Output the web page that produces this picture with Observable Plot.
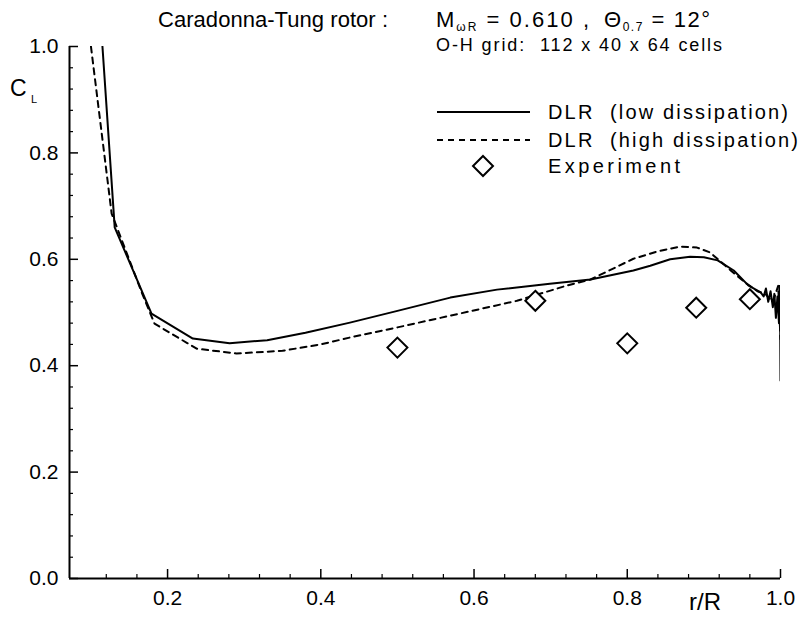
<!DOCTYPE html>
<html><head><meta charset="utf-8">
<script src="https://cdn.jsdelivr.net/npm/d3@7"></script>
<script src="https://cdn.jsdelivr.net/npm/@observablehq/plot@0.6"></script>
<style>
body{margin:0;background:#fff;overflow:hidden;font-family:"Liberation Sans",Arial,sans-serif;}
#wrap{position:relative;width:800px;height:624px;overflow:hidden;background:#fff;}
.t{position:absolute;white-space:pre;color:#000;line-height:1;}
</style></head><body><div id="wrap"></div>
<script>
// DLR low dissipation (solid)
const lowR  = [0.115, 0.131, 0.179, 0.233, 0.281, 0.33, 0.38, 0.438, 0.5, 0.569, 0.63, 0.699, 0.752, 0.808, 0.83, 0.856, 0.882, 0.9, 0.918, 0.939, 0.958, 0.974, 0.978, 0.981, 0.984, 0.987, 0.99, 0.992, 0.994, 0.996, 0.998, 0.9985, 0.999, 0.9995, 1.0];
const lowCL = [1.0, 0.66, 0.498, 0.451, 0.442, 0.448, 0.462, 0.481, 0.503, 0.528, 0.543, 0.554, 0.562, 0.579, 0.588, 0.600, 0.605, 0.604, 0.598, 0.579, 0.551, 0.538, 0.53, 0.545, 0.52, 0.54, 0.51, 0.535, 0.49, 0.53, 0.48, 0.55, 0.49, 0.50, 0.372];
// DLR high dissipation (dashed)
const highR  = [0.100, 0.127, 0.167, 0.183, 0.238, 0.29, 0.35, 0.40, 0.438, 0.5, 0.569, 0.656, 0.722, 0.752, 0.808, 0.84, 0.869, 0.891, 0.908, 0.935, 0.955, 0.97, 0.98, 0.99, 0.997, 1.0];
const highCL = [1.0, 0.686, 0.535, 0.479, 0.432, 0.423, 0.428, 0.44, 0.453, 0.472, 0.494, 0.522, 0.551, 0.562, 0.601, 0.615, 0.624, 0.622, 0.613, 0.579, 0.555, 0.54, 0.535, 0.52, 0.55, 0.45];
// Experiment
const expR  = [0.50, 0.68, 0.80, 0.89, 0.96];
const expCL = [0.434, 0.522, 0.442, 0.509, 0.525];
// ticks
const xTicks = [0.2, 0.4, 0.6, 0.8, 1.0];
const xMinor = [0.12, 0.16, 0.24, 0.28, 0.32, 0.36, 0.44, 0.48, 0.52, 0.56, 0.64, 0.68, 0.72, 0.76, 0.84, 0.88, 0.92, 0.96];
const yTicks = [0.0, 0.2, 0.4, 0.6, 0.8, 1.0];
const yMinor = [0.04, 0.08, 0.12, 0.16, 0.24, 0.28, 0.32, 0.36, 0.44, 0.48, 0.52, 0.56, 0.64, 0.68, 0.72, 0.76, 0.84, 0.88, 0.92, 0.96];
const xDomain = [0.072, 1.0];
const yDomain = [0, 1];
const legendLabels = ["DLR  (low dissipation)", "DLR  (high dissipation)", "Experiment"];

const low = lowR.map((r, i) => ({r, cl: lowCL[i]}));
const high = highR.map((r, i) => ({r, cl: highCL[i]}));
const exp = expR.map((r, i) => ({r, cl: expCL[i]}));
const fmt = d3.format(".1f");
const FS = 21;
const W = 800, H = 624, ML = 69, MR = 20, MT = 46, MB = 46;
const FW = W - ML - MR, FH = H - MT - MB;

const plot = Plot.plot({
  width: W, height: H,
  marginLeft: ML, marginRight: MR, marginTop: MT, marginBottom: MB,
  x: {domain: xDomain},
  y: {domain: yDomain},
  style: {fontFamily: "Liberation Sans, Arial, sans-serif", fontSize: FS + "px", color: "#000", background: "white", overflow: "visible"},
  marks: [
    Plot.tickX(xMinor, {x: d => d, stroke: "black", strokeWidth: 1.2, insetTop: FH - 4}),
    Plot.tickX(xTicks, {x: d => d, stroke: "black", strokeWidth: 1.5, insetTop: FH - 9}),
    Plot.tickY(yMinor, {y: d => d, stroke: "black", strokeWidth: 1.2, insetRight: FW - 4}),
    Plot.tickY(yTicks, {y: d => d, stroke: "black", strokeWidth: 1.5, insetRight: FW - 9}),
    Plot.axisX(xTicks, {tickSize: 0, tickPadding: 12, tickFormat: fmt, label: null, fontSize: FS}),
    Plot.axisY(yTicks, {tickSize: 0, tickPadding: 11, tickFormat: fmt, label: null, fontSize: FS}),
    Plot.ruleX([xDomain[0]], {stroke: "black", strokeWidth: 2}),
    Plot.ruleY([yDomain[0]], {stroke: "black", strokeWidth: 2}),
    Plot.line(high, {x: "r", y: "cl", stroke: "black", strokeWidth: 2, strokeDasharray: "6,5", clip: true}),
    Plot.line(low, {x: "r", y: "cl", stroke: "black", strokeWidth: 2, clip: true}),
    Plot.dot(exp, {x: "r", y: "cl", symbol: "diamond2", r: 9, stroke: "black", strokeWidth: 2, fill: "white"})
  ]
});
const wrap = document.getElementById("wrap");
wrap.appendChild(plot);
plot.style.position = "absolute"; plot.style.left = "0"; plot.style.top = "0";

function addText(html, left, top, size) {
  const d = document.createElement("div");
  d.className = "t"; d.innerHTML = html;
  d.style.left = left + "px"; d.style.top = top + "px"; d.style.fontSize = size + "px";
  wrap.appendChild(d);
  return d;
}
addText("C", 10, 77, 23);
addText("L", 31, 94, 11);
addText("r/R", 689, 590, 24);

// overlay svg: title, grid note, legend
const lg = document.createElementNS("http://www.w3.org/2000/svg", "svg");
lg.setAttribute("width", W); lg.setAttribute("height", H);
lg.style.position = "absolute"; lg.style.left = "0"; lg.style.top = "0";
lg.style.fontFamily = "Liberation Sans, Arial, sans-serif";
const ys = [112, 140, 166];
const lens = [240, 250, 132];
lg.innerHTML = `
<text x="158" y="27" font-size="22" textLength="230" lengthAdjust="spacing">Caradonna-Tung rotor :</text>
<text x="436" y="27" font-size="22" textLength="153" lengthAdjust="spacing">M<tspan font-size="12" dy="4">ωR</tspan><tspan dy="-4" xml:space="preserve"> = 0.610 ,</tspan></text>
<text x="604" y="27" font-size="22" textLength="106" lengthAdjust="spacing">Θ<tspan font-size="12" dy="4">0.7</tspan><tspan dy="-4" xml:space="preserve"> = 12°</tspan></text>
<text x="436" y="51" font-size="18" textLength="286" lengthAdjust="spacing" xml:space="preserve">O-H grid:  112 x 40 x 64 cells</text>
<line x1="437" x2="530" y1="${ys[0]}" y2="${ys[0]}" stroke="black" stroke-width="2"/>
<line x1="437" x2="530" y1="${ys[1]}" y2="${ys[1]}" stroke="black" stroke-width="2" stroke-dasharray="6,5"/>
<path d="${d3.symbol(d3.symbolDiamond2, Math.PI*81)()}" transform="translate(483,${ys[2]})" fill="white" stroke="black" stroke-width="2"/>
${legendLabels.map((s, i) => `<text x="548" y="${ys[i] + 7}" font-size="20" textLength="${lens[i]}" lengthAdjust="spacing" xml:space="preserve">${s}</text>`).join("")}`;
wrap.appendChild(lg);
</script>
</body></html>
